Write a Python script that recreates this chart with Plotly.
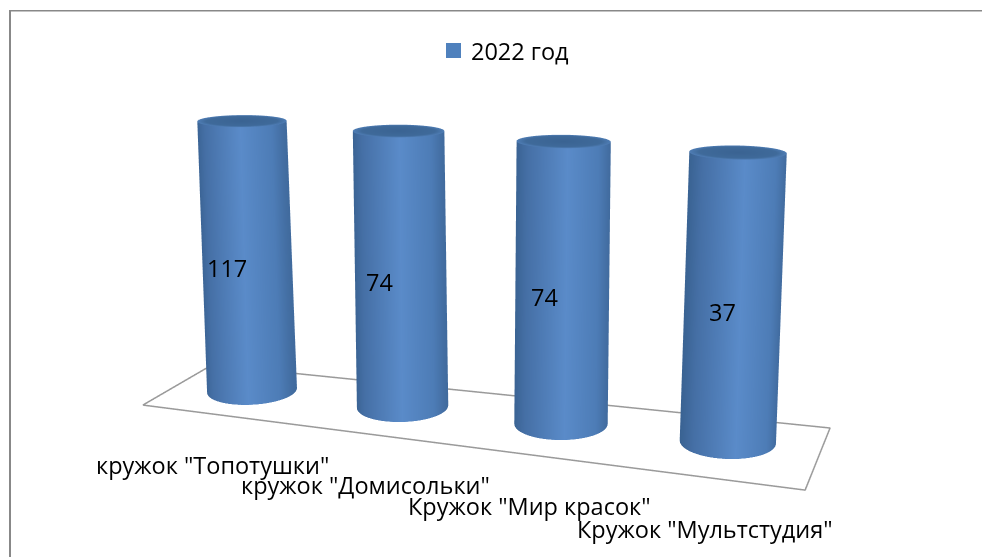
import numpy as np
import plotly.graph_objects as go

categories = ['кружок "Топотушки"', 'кружок "Домисольки"', 'Кружок "Мир красок"', 'Кружок "Мультстудия"']
value_labels = [117, 74, 74, 37]
bar_share = [100, 100, 100, 100]
series_name = "2022 год"

# view and solid shape of the 3-D scene
EYE = (0.0749, -1.2409, 0.3870)
CENTER = (-0.0525, -0.3231, -0.3482)
W, D, H = 0.6589, 0.6, 0.3060
TOP_SQUEEZE = 0.2260
R_TOP_X, R_TOP_Y = 0.0352, 0.0110
R_BOT_X, R_BOT_Y = 0.0470, 0.0210
Y_TOP, Y_BOT = -0.7766, -0.7918
TILT_TOP, TILT_BOT = 0.0040, 0.0060
X_SHIFT = 0.012
FLOOR_X = [-0.622, 3.397, 3.647, -0.350, -0.622]
FLOOR_Y = [-2.758, -2.796, -2.534, -2.542, -2.758]
XR, YR = 4.5, 3.0

th = np.linspace(0, 2 * np.pi, 145)
sx, sy = 4 / W, 2 / D
light = dict(ambient=1, diffuse=0, specular=0, fresnel=0)
side_scale = [[0, "#3a6393"], [.12, "#456fa5"], [.55, "#5a8bc9"], [.88, "#4d7cb6"], [1, "#416b9e"]]
cap_scale = [[0, "#3a6392"], [.8, "#3f6a9a"], [1, "#4f7db5"]]

fig = go.Figure()
for i, h in enumerate(bar_share):
    xb = i + X_SHIFT
    xt = (i - 1.5) * (1 - TOP_SQUEEZE) + 1.5 + X_SHIFT
    X = np.array([xb + R_BOT_X * sx * np.cos(th), xt + R_TOP_X * sx * np.cos(th)])
    Y = np.array([sy * (Y_BOT + R_BOT_Y * np.sin(th) + TILT_BOT * np.cos(th)),
                  sy * (Y_TOP + R_TOP_Y * np.sin(th) + TILT_TOP * np.cos(th))])
    Z = np.array([np.zeros_like(th), np.full_like(th, h)])
    S = np.array([np.cos(th)] * 2) * .5 + .5
    fig.add_trace(go.Surface(x=X, y=Y, z=Z, surfacecolor=S, cmin=0, cmax=1, colorscale=side_scale,
                             showscale=False, lighting=light, hoverinfo="skip"))
    rr = np.array([0, 1])
    X2 = xt + np.outer(rr, R_TOP_X * sx * np.cos(th))
    Y2 = sy * (Y_TOP + np.outer(rr, R_TOP_Y * np.sin(th) + TILT_TOP * np.cos(th)))
    Z2 = np.full_like(X2, h)
    fig.add_trace(go.Surface(x=X2, y=Y2, z=Z2, surfacecolor=rr[:, None] * np.ones_like(X2), cmin=0, cmax=1,
                             colorscale=cap_scale, showscale=False, lighting=light, hoverinfo="skip"))
fig.add_trace(go.Scatter3d(x=FLOOR_X, y=FLOOR_Y, z=[0] * 5, mode="lines",
                           line=dict(color="#9a9a9a", width=3), showlegend=False, hoverinfo="skip"))

cat_pos = [(331, 465), (492, 485), (653, 506), (835, 529)]
val_pos = [(227, 268), (379.5, 282), (544.5, 297), (722.5, 312)]
ann = []
for t, (x, y) in zip(categories, cat_pos):
    ann.append(dict(x=x / 982, y=1 - y / 557, xref="paper", yref="paper", text=t, showarrow=False, xanchor="right", yanchor="middle"))
for t, (x, y) in zip(value_labels, val_pos):
    ann.append(dict(x=x / 982, y=1 - y / 557, xref="paper", yref="paper", text=str(t), showarrow=False, xanchor="center", yanchor="middle"))
ann.append(dict(x=469 / 982, y=1 - 51 / 557, xref="paper", yref="paper", text=series_name, showarrow=False, xanchor="left", yanchor="middle"))

def paper(x0, y0, x1, y1, **kw):
    return dict(xref="paper", yref="paper", x0=x0 / 982, x1=x1 / 982, y0=1 - y0 / 557, y1=1 - y1 / 557, **kw)

shapes = [
    paper(9, 10, 11, 557, type="rect", fillcolor="#888888", line_width=0),
    paper(9, 10, 982, 11.5, type="rect", fillcolor="#888888", line_width=0),
    paper(446, 43, 461, 58, type="rect", fillcolor="#4f81bd", line_width=0),
]
fig.update_layout(
    width=982, height=557, margin=dict(l=0, r=0, t=0, b=0), paper_bgcolor="white",
    font=dict(family="Open Sans", size=23.5, color="black"),
    showlegend=False, shapes=shapes, annotations=ann,
    scene=dict(domain=dict(x=[0, 1], y=[0, 1]),
               xaxis=dict(visible=False, range=[1.5 - XR / 2, 1.5 + XR / 2]),
               yaxis=dict(visible=False, range=[-YR, YR]),
               zaxis=dict(visible=False, range=[0, 100]),
               aspectmode="manual", aspectratio=dict(x=W * XR / 4, y=D * YR, z=H),
               camera=dict(eye=dict(zip("xyz", EYE)), center=dict(zip("xyz", CENTER)), up=dict(x=0, y=0, z=1))),
)
fig.write_html("out.html", config=dict(displayModeBar=False), post_script="document.body.style.margin='0';")
